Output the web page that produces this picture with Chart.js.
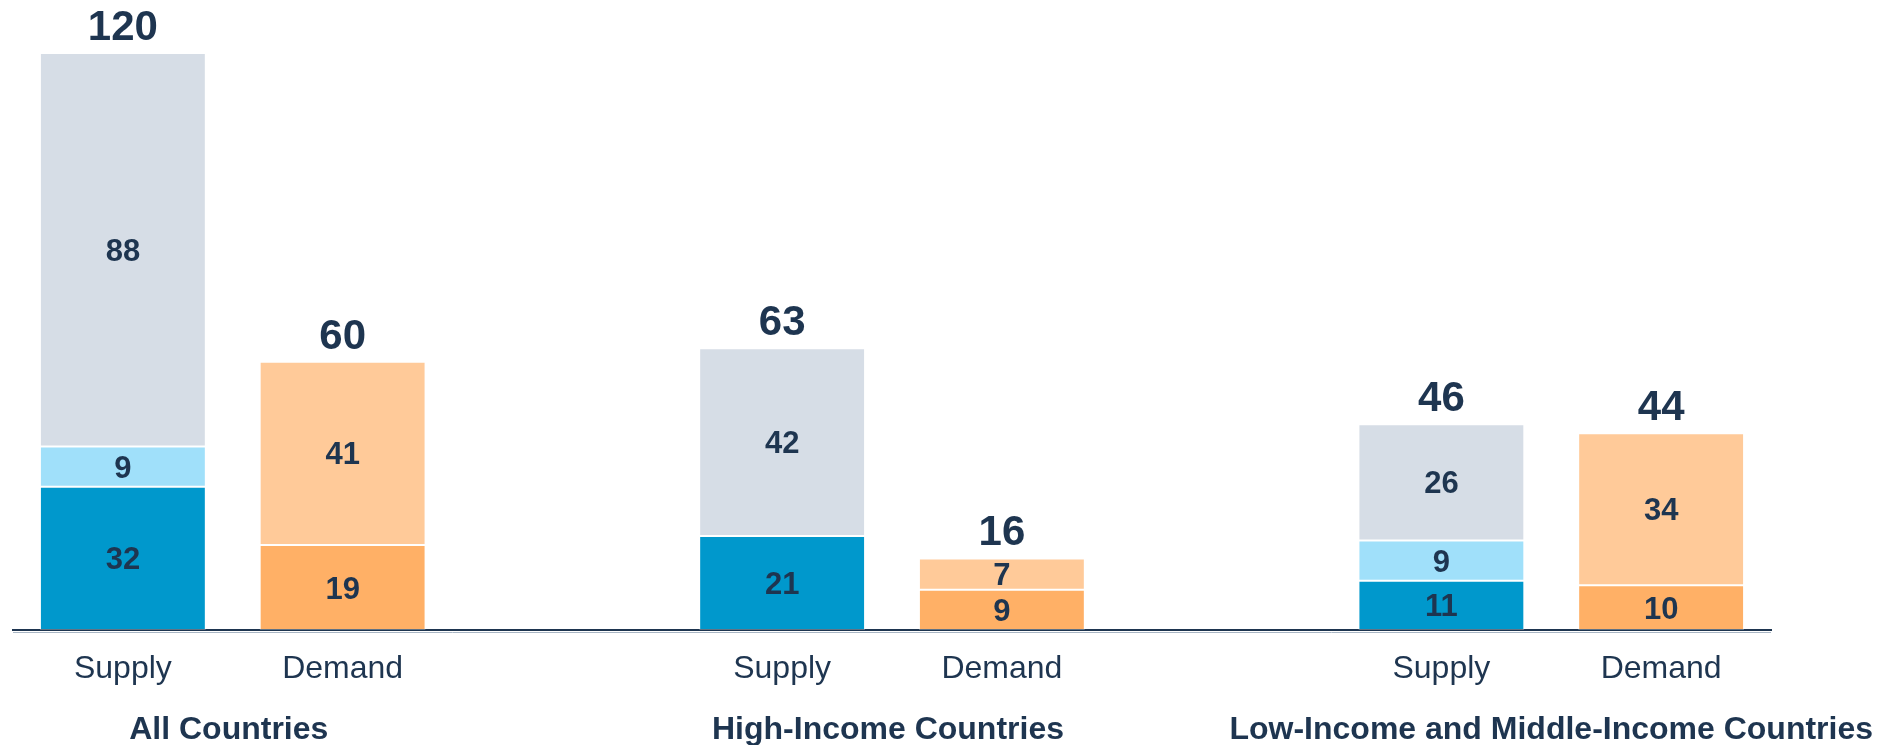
<!DOCTYPE html>
<html>
<head>
<meta charset="utf-8">
<title>Supply and Demand</title>
<script src="https://cdn.jsdelivr.net/npm/chart.js@4/dist/chart.umd.min.js"></script>
<style>
    html, body { margin: 0; padding: 0; background: #fff; }
    #chart-wrap { width: 1883px; height: 745px; position: relative; }
</style>
</head>
<body>
<div id="chart-wrap"><canvas id="supply-demand"></canvas></div>
<script>
    // Country groups and the two bars shown for each
    const groups = ['All Countries', 'High-Income Countries', 'Low-Income and Middle-Income Countries'];
    const barNames = ['Supply', 'Demand'];

    // Supply segments, bottom to top
    const supplyCore = [32, 21, 11];
    const supplyMid = [9, null, 9];
    const supplyOuter = [88, 42, 26];

    // Demand segments, bottom to top
    const demandCore = [19, 9, 10];
    const demandOuter = [41, 7, 34];

    // Totals printed above each bar
    const supplyTotals = [120, 63, 46];
    const demandTotals = [60, 16, 44];

    const textColor = '#1E3550';
    const fontFamily = "'Liberation Sans', Arial, sans-serif";

    // Each group takes three slots: supply, demand and an empty spacer
    const slotCount = groups.length * 3 - 1;

    function toSlots(values, offset) {
        const out = Array(slotCount).fill(null);
        values.forEach((v, g) => { out[g * 3 + offset] = v; });
        return out;
    }

    const tickLabels = Array(slotCount).fill('');
    groups.forEach((g, i) => {
        tickLabels[i * 3] = barNames[0];
        tickLabels[i * 3 + 1] = barNames[1];
    });

    const slotTotals = toSlots(supplyTotals, 0).map((v, i) => v !== null ? v : toSlots(demandTotals, 1)[i]);

    function segment(values, offset, color) {
        return {
            data: toSlots(values, offset),
            backgroundColor: color,
            borderColor: 'rgba(255, 255, 255, 0.3)',
            borderWidth: 1,
            borderSkipped: false
        };
    }

    // Value labels inside segments, totals on top, group names below the axis
    const barLabels = {
        id: 'barLabels',
        afterDatasetsDraw(chart) {
            const ctx = chart.ctx;
            const yScale = chart.scales.y;
            const xScale = chart.scales.x;
            const area = chart.chartArea;
            const stackTop = Array(slotCount).fill(0);

            ctx.save();
            // soft shadow line under the axis
            ctx.strokeStyle = '#A9B6C4';
            ctx.lineWidth = 1;
            ctx.beginPath();
            ctx.moveTo(area.left, area.bottom + 2.5);
            ctx.lineTo(area.right, area.bottom + 2.5);
            ctx.stroke();

            ctx.fillStyle = textColor;
            ctx.textAlign = 'center';
            ctx.textBaseline = 'alphabetic';
            ctx.font = 'bold 31px ' + fontFamily;

            chart.data.datasets.forEach((ds, i) => {
                const meta = chart.getDatasetMeta(i);
                meta.data.forEach((bar, j) => {
                    const v = ds.data[j];
                    if (v === null) return;
                    stackTop[j] += v;
                    const mid = (bar.y + bar.base) / 2;
                    ctx.fillText(String(v), bar.x, mid + 11);
                });
            });

            ctx.font = 'bold 42px ' + fontFamily;
            slotTotals.forEach((t, j) => {
                if (t === null) return;
                const x = xScale.getPixelForValue(j);
                const top = yScale.getPixelForValue(stackTop[j]);
                ctx.fillText(String(t), x, top - 13);
            });

            ctx.font = 'bold 32px ' + fontFamily;
            groups.forEach((g, i) => {
                const x = (xScale.getPixelForValue(i * 3) + xScale.getPixelForValue(i * 3 + 1)) / 2;
                ctx.fillText(g, x - (i < 2 ? 4 : 0), 739);
            });
            ctx.restore();
        }
    };

    new Chart(document.getElementById('supply-demand').getContext('2d'), {
        type: 'bar',
        data: {
            labels: tickLabels,
            datasets: [
                segment(supplyCore, 0, '#0098CC'),
                segment(supplyMid, 0, '#A0E0FA'),
                segment(supplyOuter, 0, '#D6DDE6'),
                segment(demandCore, 1, '#FFB066'),
                segment(demandOuter, 1, '#FFCA99')
            ]
        },
        options: {
            responsive: true,
            maintainAspectRatio: false,
            animation: false,
            categoryPercentage: 1,
            barPercentage: 0.755,
            layout: {
                padding: { top: 53, left: 13, right: 112, bottom: 0 }
            },
            plugins: {
                legend: { display: false },
                tooltip: { enabled: false }
            },
            scales: {
                x: {
                    stacked: true,
                    grid: { display: false, drawTicks: false },
                    border: { display: true, color: '#1E3550', width: 2 },
                    ticks: {
                        color: textColor,
                        font: { family: fontFamily, size: 32 },
                        padding: 20,
                        maxRotation: 0,
                        autoSkip: false
                    },
                    afterFit(scale) {
                        scale.height = 115;
                    }
                },
                y: {
                    stacked: true,
                    display: false,
                    min: 0,
                    max: 129
                }
            }
        },
        plugins: [barLabels]
    });
</script>
</body>
</html>
